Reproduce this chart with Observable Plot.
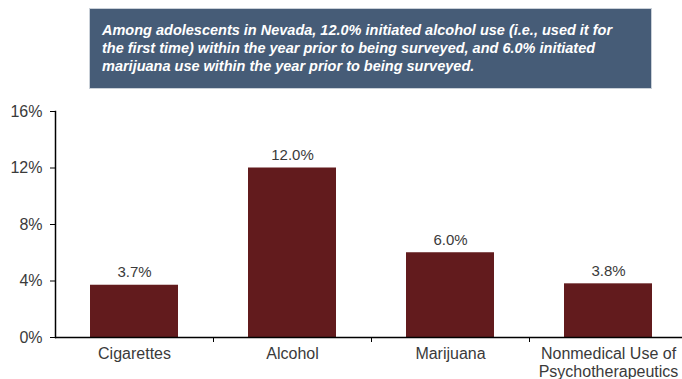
<!DOCTYPE html>
<html>
<head>
<meta charset="utf-8">
<script src="https://cdn.jsdelivr.net/npm/d3@7"></script>
<script src="https://cdn.jsdelivr.net/npm/@observablehq/plot@0.6"></script>
<style>
  body { margin: 0; background: #fff; font-family: "Liberation Sans", Arial, sans-serif; }
  #head { position: relative; height: 95px; width: 682px; }
  #box { position: absolute; left: 89px; top: 8px; width: 563px; height: 81px; box-sizing: border-box;
         background: #465c77; border: 1px solid #c9d0d8; color: #fff; font-weight: bold; font-style: italic;
         font-size: 14.5px; line-height: 18px; padding: 12px 10px 0 12px; white-space: nowrap; }
</style>
</head>
<body>
<div id="head"><div id="box">Among adolescents in Nevada, 12.0% initiated alcohol use (i.e., used it for<br>the first time) within the year prior to being surveyed, and 6.0% initiated<br>marijuana use within the year prior to being surveyed.</div></div>
<div id="chart"></div>
<script>
const categories = ["Cigarettes", "Alcohol", "Marijuana", "Nonmedical"];
const categoryLabels = ["Cigarettes", "Alcohol", "Marijuana", "Nonmedical Use of\nPsychotherapeutics"];
const values = [3.7, 12.0, 6.0, 3.8];
const yTicks = [0, 4, 8, 12, 16];

const data = categories.map((c, i) => ({category: c, value: values[i]}));

const chart = Plot.plot({
  width: 682,
  height: 284,
  marginLeft: 55,
  marginRight: 0,
  marginTop: 16,
  marginBottom: 42,
  style: {fontFamily: "'Liberation Sans', Arial, sans-serif", color: "#3a3a3a", background: "#fff"},
  x: {domain: categories, range: [55, 688], paddingInner: 0.44, paddingOuter: 0.22},
  y: {domain: [0, 16]},
  marks: [
    Plot.barY(data, {x: "category", y: "value", fill: "#621b1d"}),
    Plot.text(data, {x: "category", y: "value", text: d => d.value.toFixed(1) + "%", dy: -13, fontSize: 15, fill: "#3a3a3a"}),
    Plot.axisY({ticks: yTicks, tickFormat: d => d + "%", tickSize: 5, tickPadding: 8, fontSize: 16, stroke: "#000", label: null}),
    Plot.axisX({tickSize: 0, tickPadding: 9, fontSize: 16, tickFormat: (d, i) => categoryLabels[categories.indexOf(d)], label: null, lineHeight: 1.1}),
    Plot.axisX({ticks: categories.slice(0, 3), text: null, tickSize: 5, dx: 79, stroke: "#000", label: null}),
    Plot.ruleY([0], {stroke: "#000", strokeWidth: 1.5}),
    Plot.frame({anchor: "left", stroke: "#000", strokeWidth: 1.5})
  ]
});
document.getElementById("chart").appendChild(chart);
</script>
</body>
</html>
